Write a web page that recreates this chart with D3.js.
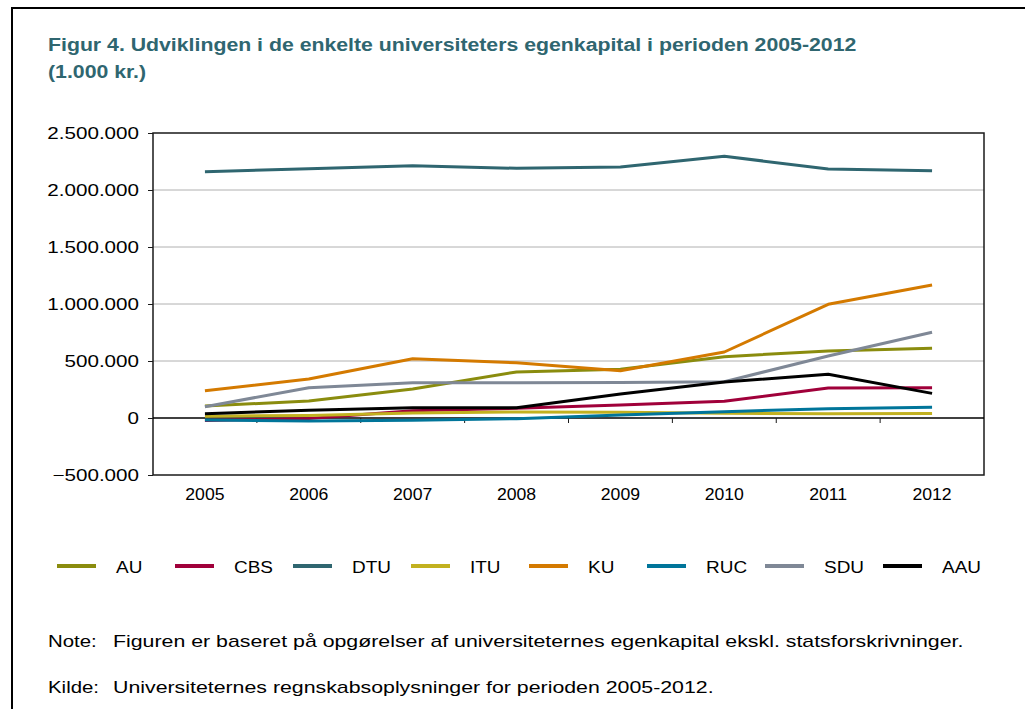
<!DOCTYPE html>
<html>
<head>
<meta charset="utf-8">
<script src="https://cdn.jsdelivr.net/npm/d3@7"></script>
<style>
  html, body { margin: 0; padding: 0; background: #fff; }
  svg { display: block; font-family: "Liberation Sans", Arial, sans-serif; }
</style>
</head>
<body>
<svg id="chart" width="1025" height="709"></svg>
<script>
const years = ["2005", "2006", "2007", "2008", "2009", "2010", "2011", "2012"];
const seriesNames = ["AU", "CBS", "DTU", "ITU", "KU", "RUC", "SDU", "AAU"];
const seriesColors = ["#8a8c0e", "#a0003a", "#2f6670", "#c2b120", "#d47a00", "#00759a", "#7f8896", "#000000"];
const AU  = [105000, 149000, 254000, 404000, 427000, 538000, 588000, 611000];
const CBS = [-23000, -5000, 64000, 85000, 114000, 146000, 263000, 266000];
const DTU = [2160000, 2187000, 2213000, 2190000, 2202000, 2296000, 2184000, 2169000];
const ITU = [15000, 23000, 44000, 53000, 50000, 41000, 38000, 40000];
const KU  = [239000, 342000, 520000, 485000, 415000, 579000, 997000, 1167000];
const RUC = [-18000, -26000, -20000, -6000, 26000, 55000, 82000, 94000];
const SDU = [99000, 266000, 310000, 310000, 312000, 318000, 544000, 752000];
const AAU = [38000, 67000, 90000, 90000, 210000, 316000, 383000, 216000];
const yTicks = [-500000, 0, 500000, 1000000, 1500000, 2000000, 2500000];
const titleLines = ["Figur 4. Udviklingen i de enkelte universiteters egenkapital i perioden 2005-2012", "(1.000 kr.)"];
const noteLines = [["Note:", "Figuren er baseret på opgørelser af universiteternes egenkapital ekskl. statsforskrivninger."],
                   ["Kilde:", "Universiteternes regnskabsoplysninger for perioden 2005-2012."]];

const seriesValues = [AU, CBS, DTU, ITU, KU, RUC, SDU, AAU];
const series = seriesNames.map((n, i) => ({ name: n, color: seriesColors[i], values: seriesValues[i] }));

const svg = d3.select("#chart");

// text helper with horizontal stretch
function addText(parent, x, y, str, o) {
  return parent.append("text")
    .attr("transform", `translate(${x},${y}) scale(${o.sx || 1},1)`)
    .attr("font-size", o.size + "px")
    .attr("font-weight", o.weight || "normal")
    .attr("fill", o.fill || "#000")
    .attr("text-anchor", o.anchor || "start")
    .text(str);
}

// outer frame
svg.append("path")
  .attr("d", "M12,709 L12,8 L1030,8")
  .attr("fill", "none").attr("stroke", "#000").attr("stroke-width", 2);

// title
titleLines.forEach((t, i) =>
  addText(svg, 48, 51 + i * 27, t, { size: 19, sx: 1.12, weight: "bold", fill: "#2f6670" }));

const plot = { left: 153, right: 984, top: 133, bottom: 475 };

const x = d3.scaleBand().domain(years).range([plot.left, plot.right]);
const y = d3.scaleLinear().domain([-500000, 2500000]).range([plot.bottom, plot.top]);

const fmt = v => d3.format(",")(v).replace(/,/g, ".");

// gridlines
svg.append("g").selectAll("line").data(yTicks.filter(t => t !== 0 && t !== 2500000 && t !== -500000))
  .join("line")
  .attr("x1", plot.left).attr("x2", plot.right)
  .attr("y1", d => y(d)).attr("y2", d => y(d))
  .attr("stroke", "#b0b0b0").attr("stroke-width", 1);

// plot box
svg.append("rect")
  .attr("x", plot.left).attr("y", plot.top)
  .attr("width", plot.right - plot.left).attr("height", plot.bottom - plot.top)
  .attr("fill", "none").attr("stroke", "#1a1a1a").attr("stroke-width", 1.5);

// y axis ticks
const yAxis = d3.axisLeft(y).tickValues(yTicks).tickFormat("").tickSize(5);
const gy = svg.append("g").attr("transform", `translate(${plot.left},0)`).call(yAxis);
gy.select(".domain").remove();
gy.selectAll("line").attr("stroke", "#1a1a1a");
const gyl = svg.append("g");
yTicks.forEach(t => addText(gyl, 139, y(t) + 6, fmt(t), { size: 16.5, sx: 1.25, anchor: "end" }));

// zero axis line
svg.append("line")
  .attr("x1", plot.left).attr("x2", plot.right)
  .attr("y1", y(0)).attr("y2", y(0))
  .attr("stroke", "#000").attr("stroke-width", 1.5);

// x ticks at band boundaries, hanging below zero line
const boundaries = years.slice(1).map(yr => x(yr));
svg.append("g").selectAll("line").data(boundaries).join("line")
  .attr("x1", d => d).attr("x2", d => d)
  .attr("y1", y(0)).attr("y2", y(0) + 5)
  .attr("stroke", "#1a1a1a").attr("stroke-width", 1);

// x labels
const gxl = svg.append("g");
years.forEach(yr => addText(gxl, x(yr) + x.bandwidth() / 2, 500, yr, { size: 16.5, sx: 1.07, anchor: "middle" }));

// lines
const line = d3.line()
  .x((d, i) => x(years[i]) + x.bandwidth() / 2)
  .y(d => y(d));

svg.append("g").selectAll("path").data(series).join("path")
  .attr("d", d => line(d.values))
  .attr("fill", "none")
  .attr("stroke", d => d.color)
  .attr("stroke-width", 3)
  .attr("stroke-linejoin", "round");

// legend
const legend = svg.append("g").selectAll("g").data(series).join("g")
  .attr("transform", (d, i) => `translate(${57 + i * 118},566)`);
legend.append("line")
  .attr("x1", 0).attr("x2", 39).attr("y1", 0).attr("y2", 0)
  .attr("stroke", d => d.color).attr("stroke-width", 4);
legend.each(function (d) {
  addText(d3.select(this), 59, 6.5, d.name, { size: 16.5, sx: 1.15 });
});

// notes
noteLines.forEach((n, i) => {
  const yy = 647 + i * 46;
  addText(svg, 48, yy, n[0], { size: 17, sx: 1.2 });
  addText(svg, 113, yy, n[1], { size: 17, sx: 1.255 });
});
</script>
</body>
</html>
